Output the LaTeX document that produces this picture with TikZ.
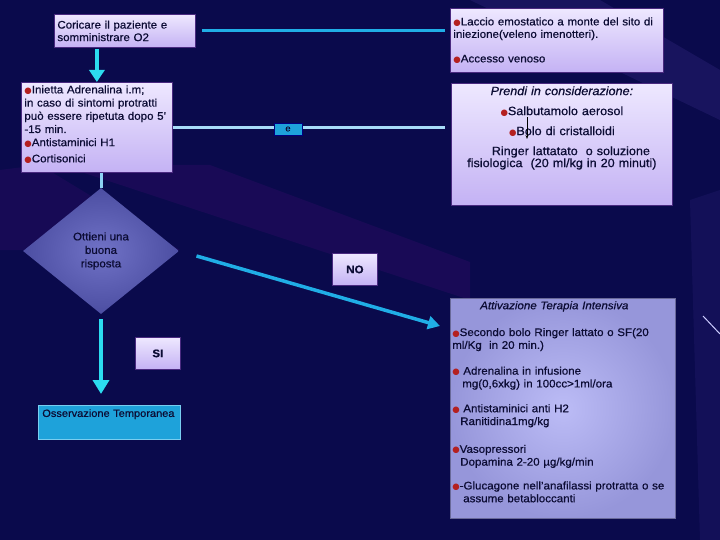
\documentclass[tikz,border=0pt]{standalone}
\usepackage{fontspec}
\setmainfont{Liberation Sans}[FakeStretch=1.05,FakeBold=0.6]
\newfontfamily\symfont{DejaVu Sans}
\usetikzlibrary{shapes.geometric,arrows.meta,calc}
\definecolor{navy}{HTML}{0A0A4C}
\definecolor{streak}{HTML}{2C0C64}
\definecolor{streaklight}{HTML}{3A2C8A}
\definecolor{lavtop}{HTML}{EEE8FF}
\definecolor{lavbot}{HTML}{C4B2F4}
\definecolor{lavline}{HTML}{4A2A80}
\definecolor{ink}{HTML}{0C0C34}
\definecolor{cyanarr}{HTML}{2CDCF0}
\definecolor{bluelink}{HTML}{20AEE6}
\definecolor{palelink}{HTML}{A8DCF8}
\definecolor{bulred}{HTML}{B42020}
\definecolor{obsfill}{HTML}{1EA2DA}
\definecolor{intfill}{HTML}{BCBCF6}
\definecolor{intedge}{HTML}{9696DA}
\definecolor{diacenter}{HTML}{7072C6}
\definecolor{diaedge}{HTML}{4C4EA2}
\newcommand{\redball}{{\symfont\fontsize{8.5}{8.5}\selectfont\color{bulred}●}}
\begin{document}
\begin{tikzpicture}[x=1pt,y=-1pt,
	lavbox/.style={draw=lavline, line width=0.8pt, top color=lavtop, bottom color=lavbot, text=ink,
		font=\fontsize{11}{12.5}\selectfont, inner xsep=3pt, inner ysep=3pt, anchor=north west, align=left},
	tagbox/.style={draw=lavline, line width=0.8pt, top color=lavtop, bottom color=lavbot, text=ink,
		font=\bfseries\fontsize{11}{12}\selectfont, minimum width=45, minimum height=32, anchor=north west},
	link/.style={line width=3pt},
	downarrow/.style={line width=4pt, color=cyanarr, -{Triangle[width=15pt,length=12pt]}}]
	\useasboundingbox (0,0) rectangle (720,540);
	\fill[navy] (0,0) rectangle (720,540);
	\fill[streak, opacity=.45] (60,165) -- (210,165) -- (470,262) -- (470,300) -- cycle;
	\fill[streak, opacity=.4] (0,170) -- (40,165) -- (180,250) -- (0,250) -- cycle;
	\fill[streaklight, opacity=.3] (470,0) -- (600,0) -- (720,70) -- (720,120) -- cycle;
	\fill[streaklight, opacity=.2] (690,200) -- (720,190) -- (720,540) -- (700,540) -- cycle;
	\draw[white!80!blue, line width=1pt] (703,316) -- (720,334);
	
	\node[lavbox, text width=135, minimum height=33] at (54,14) (cori) {Coricare il paziente e\\somministrare O2};
	\node[lavbox, text width=207, minimum height=64] at (450,8) (laccio) {\redball Laccio emostatico a monte del sito di\\iniezione(veleno imenotteri).\\[12pt]\redball Accesso venoso};
	\node[lavbox, font=\fontsize{11}{13.2}\selectfont, text width=145, text depth=76pt] at (21,82) (inietta) {\redball Inietta Adrenalina i.m;\\in caso di sintomi protratti\\può essere ripetuta dopo 5'\\-15 min.\\\redball Antistaminici H1\\[3pt]\redball Cortisonici};
	\node[lavbox, font=\fontsize{12}{12}\selectfont, text width=215, align=center, text depth=107pt] at (451,83) (prendi) {\textit{Prendi in considerazione:}\\[8pt]\redball Salbutamolo aerosol\\[8pt]\redball Bolo di cristalloidi\\[8pt]\hspace*{1.5em}Ringer lattatato\ \ o soluzione\\fisiologica\ \ (20 ml/kg in 20 minuti)};
	\node[diamond, shading=radial, inner color=diacenter, outer color=diaedge, minimum width=156, minimum height=126, inner sep=0, aspect=1.24, align=center, text=ink, font=\fontsize{11}{13.5}\selectfont] at (101,251) (risposta) {Ottieni una\\buona\\risposta};
	\node[tagbox] at (332,253) (no) {NO};
	\node[tagbox] at (135,337) (si) {SI};
	\node[draw=intedge!70!black, line width=0.5pt, shading=radial, inner color=intfill, outer color=intedge, text=ink, font=\fontsize{11}{12.8}\selectfont, inner xsep=2pt, inner ysep=3pt, anchor=north west, align=left, text width=221, text depth=206pt] at (450,298) (terapia) {\hspace*{28pt}\textit{Attivazione Terapia Intensiva}\\[14pt]\redball Secondo bolo Ringer lattato o SF(20\\ml/Kg\ \ in 20 min.)\\[13pt]\redball\ Adrenalina in infusione\\\hspace*{10pt}mg(0,6xkg) in 100cc>1ml/ora\\[12pt]\redball\ Antistaminici anti H2\\\hspace*{8pt}Ranitidina1mg/kg\\[15pt]\redball Vasopressori\\\hspace*{8pt}Dopamina 2-20 µg/kg/min\\[11pt]\redball-Glucagone nell'anafilassi protratta o se\\\hspace*{11pt}assume betabloccanti};
	\node[draw=bluelink!60!white, line width=0.6pt, fill=obsfill, text=ink, font=\fontsize{10.5}{12}\selectfont, anchor=north west, inner xsep=4pt, inner ysep=4pt, text width=134, align=left, text depth=18pt] at (38,405) (osserva) {Osservazione Temporanea};
	\coordinate (salb) at (527,117);
	\coordinate (bolo) at (527,139);
	\coordinate (noend) at ($(terapia.north west)+(-10,28)$);
	
	\draw[link, bluelink, shorten <=6pt, shorten >=5pt] (cori.east) -- (cori.east -| laccio.west);
	\draw[downarrow, shorten <=1pt] (inietta.north |- cori.south) -- (inietta.north);
	\draw[link, palelink, shorten >=6pt] (inietta.east) -- (inietta.east -| prendi.west);
	\node[draw=blue!50!black, line width=0.6pt, fill=obsfill, minimum width=28, minimum height=12, inner sep=0, font=\fontsize{9}{9}\selectfont, text=ink] at (288,129) (econ) {e};
	\draw[black, line width=0.8pt, -{Stealth[length=4pt,width=3pt]}] (salb) -- (bolo);
	\draw[link, palelink!80!bluelink] (risposta.north |- inietta.south) -- (risposta.north);
	\draw[line width=3.5pt, bluelink, shorten <=18pt, -{Triangle[width=13pt,length=12pt]}] (risposta.east) -- (noend);
	\draw[downarrow, -{Triangle[width=16pt,length=14pt]}, shorten <=5pt, shorten >=11pt] (risposta.south) -- (risposta.south |- osserva.north);
\end{tikzpicture}
\end{document}
